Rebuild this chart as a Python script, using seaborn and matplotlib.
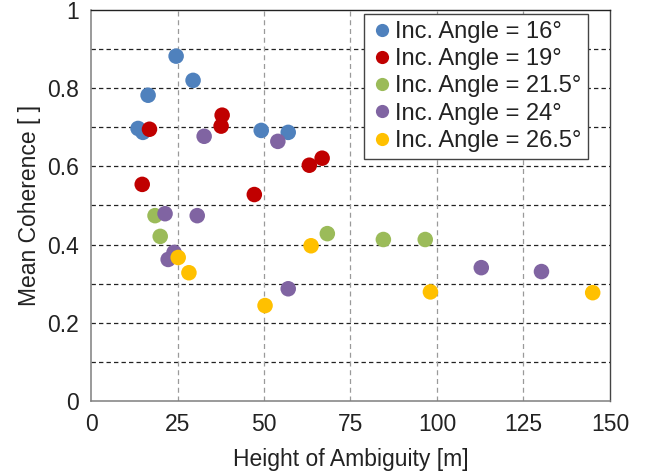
import numpy as np
import pandas as pd
import matplotlib
matplotlib.use("Agg")
import matplotlib.pyplot as plt
import seaborn as sns

sns.set_style("white")
plt.rcParams["font.family"] = ["Liberation Sans", "DejaVu Sans"]

# Height of ambiguity [m] and mean coherence per incidence angle
hoa_16 = [24.6, 29.5, 16.5, 13.6, 15.0, 49.2, 57.0]
coh_16 = [0.882, 0.820, 0.782, 0.697, 0.687, 0.692, 0.687]

hoa_19 = [16.9, 14.8, 37.9, 37.6, 47.2, 63.1, 66.8]
coh_19 = [0.695, 0.554, 0.731, 0.703, 0.528, 0.603, 0.621]

hoa_215 = [18.5, 20.0, 68.3, 84.5, 96.6]
coh_215 = [0.474, 0.421, 0.428, 0.413, 0.413]

hoa_24 = [21.4, 30.7, 24.0, 22.3, 32.7, 54.0, 57.0, 112.8, 130.2]
coh_24 = [0.479, 0.474, 0.380, 0.362, 0.677, 0.664, 0.287, 0.341, 0.331]

hoa_265 = [25.2, 28.3, 50.3, 63.6, 98.1, 145.0]
coh_265 = [0.367, 0.328, 0.244, 0.397, 0.279, 0.277]

labels = ["Inc. Angle = 16°", "Inc. Angle = 19°", "Inc. Angle = 21.5°",
          "Inc. Angle = 24°", "Inc. Angle = 26.5°"]
colors = ["#4F81BD", "#C00000", "#9BBB59", "#8064A2", "#FFC000"]

x_ticks = [0, 25, 50, 75, 100, 125, 150]
y_ticks = [0, 0.2, 0.4, 0.6, 0.8, 1]
y_tick_labels = ["0", "0.2", "0.4", "0.6", "0.8", "1"]

series = [(hoa_16, coh_16), (hoa_19, coh_19), (hoa_215, coh_215),
          (hoa_24, coh_24), (hoa_265, coh_265)]
frames = []
for lab, (xs, ys) in zip(labels, series):
    frames.append(pd.DataFrame({"hoa": xs, "coh": ys, "angle": lab}))
df = pd.concat(frames, ignore_index=True)

fig = plt.figure(figsize=(6.51, 4.76), dpi=100)
ax = fig.add_axes([0.1398, 0.1576, 0.7972, 0.8214])

# dashed grid: horizontal every 0.1, vertical every 25
for yv in np.arange(0.1, 1.0, 0.1):
    ax.axhline(yv, color="#222222", lw=0.9, ls=(0, (3.5, 2.5)), zorder=0)
for xv in [25, 50, 75, 100, 125]:
    ax.axvline(xv, color="#9a9a9a", lw=0.9, ls=(0, (4, 3)), zorder=0)

sns.scatterplot(data=df, x="hoa", y="coh", hue="angle", hue_order=labels,
                palette=colors, s=125, edgecolor="none", ax=ax, zorder=3,
                legend=True)

ax.set_xlim(0, 150)
ax.set_ylim(0, 1)
ax.set_xticks(x_ticks)
ax.set_yticks(y_ticks)
ax.set_yticklabels(y_tick_labels)
ax.tick_params(axis="both", labelsize=16.5, labelcolor="#222222", length=5,
               width=1, direction="out", pad=4, color="#7f7f7f")
ax.set_xlabel("Height of Ambiguity [m]", fontsize=16.5, color="#222222", labelpad=8)
ax.set_ylabel("Mean Coherence [ ]", fontsize=16.5, color="#222222", labelpad=4)

for side in ["left", "bottom"]:
    ax.spines[side].set_color("#7f7f7f")
    ax.spines[side].set_linewidth(1.1)
ax.spines["top"].set_color("#222222")
ax.spines["right"].set_color("#444444")
ax.spines["top"].set_linewidth(1.0)
ax.spines["right"].set_linewidth(1.0)

handles, _ = ax.get_legend_handles_labels()
leg = ax.legend(handles=handles, labels=labels, loc="upper right",
                bbox_to_anchor=(0.958, 0.990), borderaxespad=0, fontsize=17,
                frameon=True, fancybox=False, framealpha=1, edgecolor="#444444",
                handletextpad=0.1, handlelength=0.9, borderpad=0.3,
                labelspacing=0.22, markerscale=0.85)
leg.get_frame().set_linewidth(1.0)
for t in leg.get_texts():
    t.set_color("#222222")

fig.savefig("out.png", dpi=100)
